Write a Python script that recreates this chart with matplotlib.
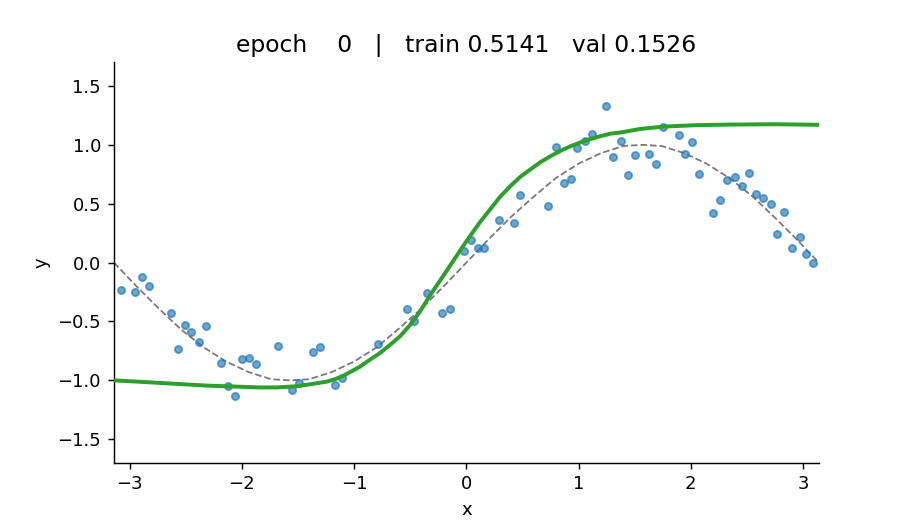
import numpy as np
import matplotlib
matplotlib.use("Agg")
import matplotlib.pyplot as plt

# observed training points
x_pts = [-3.08, -2.95, -2.89, -2.83, -2.63, -2.57, -2.51, -2.45, -2.38, -2.32,
         -2.19, -2.12, -2.06, -2.00, -1.94, -1.87, -1.68, -1.55, -1.49, -1.37,
         -1.30, -1.17, -1.11, -0.79, -0.53, -0.47, -0.35, -0.22, -0.15, -0.02,
         0.04, 0.10, 0.16, 0.29, 0.42, 0.48, 0.73, 0.80, 0.87, 0.93,
         0.99, 1.06, 1.12, 1.24, 1.31, 1.38, 1.44, 1.50, 1.63, 1.69,
         1.75, 1.89, 1.95, 2.01, 2.07, 2.20, 2.26, 2.32, 2.39, 2.46,
         2.52, 2.58, 2.64, 2.71, 2.77, 2.83, 2.90, 2.97, 3.03, 3.09]
y_pts = [-0.23, -0.25, -0.12, -0.20, -0.43, -0.73, -0.53, -0.59, -0.67, -0.54,
         -0.85, -1.05, -1.13, -0.82, -0.81, -0.86, -0.71, -1.08, -1.02, -0.76,
         -0.72, -1.04, -0.98, -0.69, -0.39, -0.50, -0.26, -0.43, -0.39, 0.10,
         0.19, 0.12, 0.12, 0.36, 0.34, 0.57, 0.48, 0.98, 0.68, 0.71,
         0.97, 1.03, 1.09, 1.33, 0.90, 1.03, 0.74, 0.91, 0.92, 0.84,
         1.15, 1.08, 0.92, 1.02, 0.75, 0.42, 0.53, 0.70, 0.73, 0.65,
         0.76, 0.58, 0.55, 0.50, 0.24, 0.43, 0.12, 0.22, 0.07, 0.00]

# true function (dashed)
x_true = [-3.14, -2.94, -2.74, -2.54, -2.34, -2.14, -1.94, -1.74, -1.57, -1.40,
          -1.20, -1.00, -0.80, -0.60, -0.40, -0.20, 0.00, 0.20, 0.40, 0.60,
          0.80, 1.00, 1.20, 1.40, 1.57, 1.74, 1.94, 2.14, 2.34, 2.54,
          2.74, 2.94, 3.14]
y_true = [0.00, -0.20, -0.39, -0.57, -0.72, -0.84, -0.93, -0.99, -1.00, -0.99,
          -0.93, -0.84, -0.72, -0.56, -0.39, -0.20, 0.00, 0.20, 0.39, 0.56,
          0.72, 0.84, 0.93, 0.99, 1.00, 0.99, 0.93, 0.84, 0.72, 0.57,
          0.39, 0.20, 0.00]

# model prediction (green)
x_pred = [-3.14, -2.85, -2.58, -2.30, -1.99, -1.85, -1.69, -1.51, -1.37, -1.24,
          -1.17, -1.10, -0.95, -0.857, -0.77, -0.678, -0.59, -0.50, -0.41, -0.321,
          -0.232, -0.143, -0.054, 0.036, 0.125, 0.214, 0.30, 0.393, 0.48, 0.571,
          0.66, 0.75, 0.84, 0.928, 1.02, 1.107, 1.20, 1.285, 1.374, 1.55,
          1.76, 2.05, 2.356, 2.75, 3.14]
y_pred = [-1.00, -1.015, -1.03, -1.045, -1.055, -1.06, -1.06, -1.05, -1.03, -1.01,
          -0.99, -0.963, -0.885, -0.823, -0.768, -0.697, -0.625, -0.528, -0.41, -0.275,
          -0.149, -0.023, 0.105, 0.23, 0.348, 0.455, 0.558, 0.651, 0.728, 0.792,
          0.853, 0.904, 0.95, 0.988, 1.022, 1.05, 1.075, 1.095, 1.105, 1.135,
          1.155, 1.167, 1.172, 1.175, 1.17]

title = "epoch    0   |   train 0.5141   val 0.1526"

fig, ax = plt.subplots(figsize=(7, 4), dpi=130)
ax.plot(x_true, y_true, linestyle="--", color="#7a7a7a", linewidth=1.0, zorder=2)
ax.scatter(x_pts, y_pts, s=16, color="tab:blue", alpha=0.65, zorder=3)
ax.plot(x_pred, y_pred, color="tab:green", linewidth=2.2, zorder=4,
        solid_joinstyle="round")
ax.set_xlim(-np.pi, np.pi)
ax.set_ylim(-1.7, 1.7)
ax.set_xlabel("x")
ax.set_ylabel("y")
ax.set_title(title, fontsize=13)
ax.spines["top"].set_visible(False)
ax.spines["right"].set_visible(False)
fig.savefig("out.png", dpi=130)
